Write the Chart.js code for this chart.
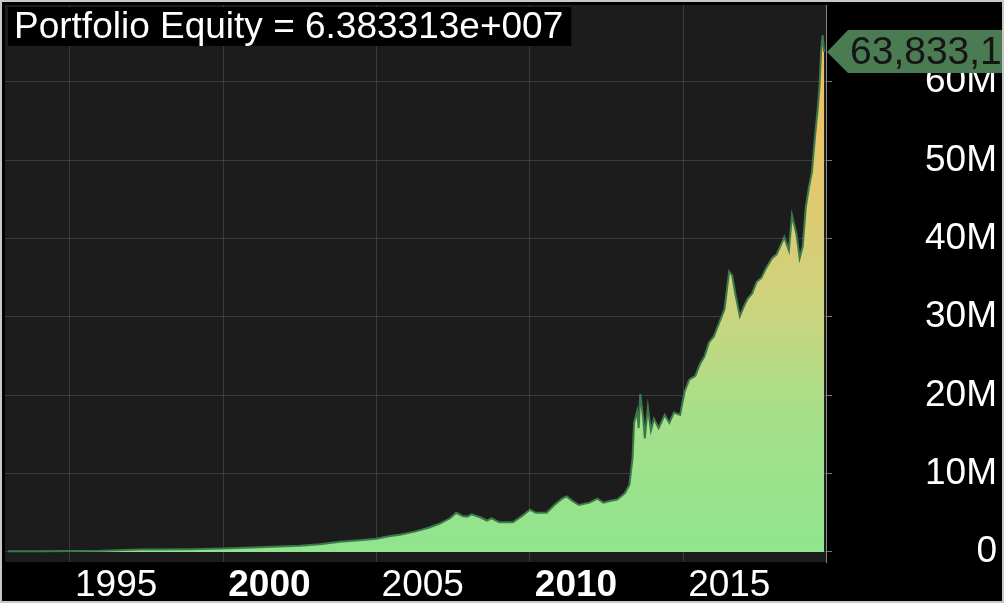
<!DOCTYPE html>
<html>
<head>
<meta charset="utf-8">
<script src="https://cdn.jsdelivr.net/npm/chart.js@4.4.1/dist/chart.umd.min.js"></script>
<style>
  html, body { margin: 0; padding: 0; background: #000; }
  #wrap { width: 1004px; height: 603px; position: relative; }
</style>
</head>
<body>
<div id="wrap"><canvas id="c" width="1004" height="603"></canvas></div>
<script>
// ---- data (equity in millions) ----
const years = [
  1992.98, 1994.0, 1995.0, 1996.0, 1996.8, 1997.3, 1997.9, 1998.9, 2000.0, 2000.5,
  2001.2, 2001.85, 2002.5, 2003.15, 2003.8, 2004.45, 2005.0, 2005.4, 2005.75, 2006.25,
  2006.7, 2007.05, 2007.4, 2007.6, 2007.8, 2007.95, 2008.1, 2008.4, 2008.6, 2008.75,
  2009.0, 2009.45, 2009.75, 2010.0, 2010.2, 2010.55, 2010.8, 2011.05, 2011.2, 2011.4,
  2011.6, 2011.95, 2012.2, 2012.4, 2012.6, 2012.85, 2013.1, 2013.25, 2013.35, 2013.4,
  2013.5, 2013.55, 2013.6, 2013.7, 2013.75, 2013.85, 2013.95, 2014.05, 2014.2, 2014.4,
  2014.55, 2014.7, 2014.9, 2015.05, 2015.2, 2015.4, 2015.55, 2015.7, 2015.85, 2016.0,
  2016.2, 2016.35, 2016.5, 2016.6, 2016.7, 2016.85, 2017.0, 2017.1, 2017.25, 2017.4,
  2017.55, 2017.7, 2017.9, 2018.05, 2018.2, 2018.3, 2018.45, 2018.55, 2018.7, 2018.8,
  2018.9, 2019.0, 2019.1, 2019.2, 2019.3, 2019.4, 2019.45, 2019.5, 2019.55, 2019.6
];
const equity = [
  0.1, 0.1, 0.12, 0.15, 0.25, 0.3, 0.3, 0.35, 0.45, 0.5,
  0.6, 0.7, 0.8, 1.0, 1.3, 1.5, 1.7, 2.0, 2.2, 2.6,
  3.1, 3.6, 4.3, 5.0, 4.6, 4.5, 4.8, 4.4, 4.0, 4.3,
  3.8, 3.8, 4.6, 5.4, 5.0, 5.0, 6.0, 6.8, 7.1, 6.5,
  6.0, 6.3, 6.8, 6.3, 6.5, 6.7, 7.5, 8.6, 12.0, 16.5,
  18.0, 15.8, 20.2, 17.0, 14.5, 18.5, 15.5, 17.0, 15.8, 17.5,
  16.5, 17.8, 17.5, 20.5, 22.0, 22.5, 24.0, 25.0, 26.8, 27.5,
  29.5, 31.0, 35.8, 35.3, 33.0, 30.1, 31.5, 32.3, 33.0, 34.5,
  35.0, 36.2, 37.5, 38.0, 39.3, 40.2, 38.5, 43.0, 40.5, 37.5,
  39.0, 44.0, 46.5, 48.5, 53.0, 57.0, 59.5, 64.0, 66.0, 63.833
];
const xTicks = [1995, 2000, 2005, 2010, 2015];
const boldYears = [2000, 2010];
const yTicks = [0, 10, 20, 30, 40, 50, 60];
const yTickLabels = ['0', '10M', '20M', '30M', '40M', '50M', '60M'];
const titleText = 'Portfolio Equity = 6.383313e+007';
const lastValueText = '63,833,130';

const FONT = "'Liberation Sans', Arial, sans-serif";

const decorPlugin = {
  id: 'decor',
  beforeDraw(chart) {
    const {ctx, chartArea: a} = chart;
    ctx.save();
    ctx.fillStyle = '#000';
    ctx.fillRect(0, 0, chart.width, chart.height);
    ctx.fillStyle = '#1c1c1c';
    ctx.fillRect(a.left, a.top, a.right - a.left, a.bottom - a.top);
    ctx.restore();
  },
  afterDraw(chart) {
    const {ctx} = chart;
    ctx.save();
    // title box
    ctx.font = '37px ' + FONT;
    const tw = ctx.measureText(titleText).width;
    ctx.fillStyle = '#000';
    ctx.fillRect(8, 7, tw + 14, 39);
    ctx.fillStyle = '#fff';
    ctx.textBaseline = 'middle';
    ctx.textAlign = 'left';
    ctx.fillText(titleText, 14, 28);
    // last value label
    const ys = chart.scales.y;
    const yv = ys.getPixelForValue(equity[equity.length - 1]);
    const tip = chart.chartArea.right + 1;
    ctx.fillStyle = '#4b7b53';
    ctx.beginPath();
    ctx.moveTo(tip, yv);
    ctx.lineTo(tip + 21, yv - 22);
    ctx.lineTo(chart.width + 5, yv - 22);
    ctx.lineTo(chart.width + 5, yv + 21);
    ctx.lineTo(tip + 21, yv + 21);
    ctx.closePath();
    ctx.fill();
    ctx.fillStyle = '#151515';
    ctx.font = '39px ' + FONT;
    ctx.fillText(lastValueText, tip + 23, yv + 1);
    // frame
    ctx.strokeStyle = '#c8c8c8';
    ctx.lineWidth = 2;
    ctx.strokeRect(1, 1, chart.width - 2, chart.height - 2);
    ctx.restore();
  }
};

const ctx = document.getElementById('c').getContext('2d');
new Chart(ctx, {
  type: 'line',
  data: {
    datasets: [{
      data: years.map((y, i) => ({x: y, y: equity[i]})),
      borderColor: '#3d7a4a',
      borderWidth: 2,
      pointRadius: 0,
      tension: 0,
      fill: 'origin',
      backgroundColor: (c) => {
        const a = c.chart.chartArea;
        if (!a) return '#8fe48f';
        const g = c.chart.ctx.createLinearGradient(0, a.bottom, 0, a.top);
        g.addColorStop(0, '#8ee58e');
        g.addColorStop(0.25, '#a4e08a');
        g.addColorStop(0.45, '#cbd47e');
        g.addColorStop(0.75, '#e9c56a');
        g.addColorStop(1, '#f3b95a');
        return g;
      }
    }]
  },
  options: {
    responsive: false,
    animation: false,
    layout: {padding: {left: 5, top: 5, right: 7, bottom: 0}},
    plugins: {legend: {display: false}, tooltip: {enabled: false}, title: {display: false}},
    scales: {
      x: {
        type: 'linear',
        position: 'bottom',
        min: 1992.88,
        max: 2019.66,
        z: 1,
        afterBuildTicks: (s) => { s.ticks = xTicks.map(v => ({value: v})); },
        afterFit: (s) => { s.height = 41; s.paddingLeft = 0; s.paddingRight = 0; },
        ticks: {
          color: '#fff',
          align: 'start',
          labelOffset: 5,
          padding: 2,
          autoSkip: false,
          maxRotation: 0,
          font: (c) => ({size: 37, family: FONT, weight: (c.tick && boldYears.includes(c.tick.value)) ? 'bold' : 'normal'}),
          callback: (v) => String(v)
        },
        grid: {color: 'rgba(80,80,80,0.6)', drawTicks: false, lineWidth: 1},
        border: {display: false}
      },
      y: {
        type: 'linear',
        position: 'right',
        min: -1.28,
        max: 69.83,
        z: 1,
        afterBuildTicks: (s) => { s.ticks = yTicks.map(v => ({value: v})); },
        afterFit: (s) => { s.width = 171; s.paddingTop = 0; s.paddingBottom = 0; },
        ticks: {
          color: '#fff',
          crossAlign: 'far',
          font: {size: 37, family: FONT},
          callback: (v) => yTickLabels[yTicks.indexOf(v)]
        },
        grid: {color: 'rgba(80,80,80,0.6)', tickLength: 6, tickColor: '#777', lineWidth: 1},
        border: {color: '#888', width: 1}
      }
    }
  },
  plugins: [decorPlugin]
});
</script>
</body>
</html>
